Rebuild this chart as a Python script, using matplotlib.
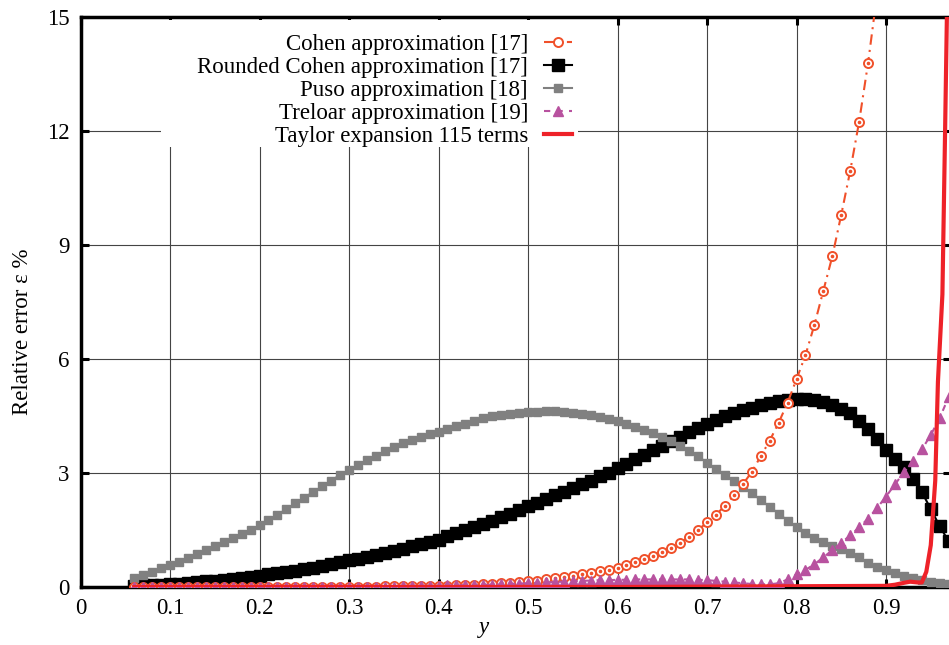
import numpy as np
import matplotlib.pyplot as plt
from matplotlib.patches import Rectangle

plt.rcParams['font.family'] = ['Liberation Serif', 'DejaVu Serif']
plt.rcParams['font.size'] = 16.5

# sample points (y = 0.06 ... 0.97)
x_grid = np.round(np.arange(0.06, 0.975, 0.01), 2)

# Cohen approximation, read up to y = 0.90 (leaves the plot above 15)
cohen = [0.0, 0.0, 0.0, 0.0, 0.0, 0.0, 0.0, 0.0, 0.0, 0.0,
         0.005, 0.005, 0.005, 0.005, 0.005, 0.005, 0.005, 0.005, 0.005, 0.005,
         0.01, 0.01, 0.01, 0.01, 0.01, 0.01, 0.01, 0.01,
         0.02, 0.02, 0.02, 0.02, 0.02, 0.02,
         0.03, 0.035, 0.04, 0.05, 0.06, 0.07, 0.08, 0.10, 0.11, 0.13,
         0.15, 0.17, 0.20, 0.23, 0.26, 0.29, 0.33, 0.37, 0.41, 0.46,
         0.51, 0.59, 0.67, 0.74, 0.81, 0.91, 1.03, 1.16, 1.32, 1.50,
         1.70, 1.90, 2.14, 2.41, 2.70, 3.03, 3.44, 3.85, 4.32, 4.85,
         5.47, 6.10, 6.90, 7.80, 8.70, 9.80, 10.95, 12.25, 13.80, 15.60,
         17.50]

rounded_cohen = [0.03, 0.04, 0.05, 0.06, 0.08, 0.09, 0.11, 0.13, 0.15, 0.17,
                 0.19, 0.21, 0.24, 0.27, 0.30, 0.33, 0.36, 0.40, 0.43, 0.47,
                 0.51, 0.55, 0.60, 0.65, 0.70, 0.75, 0.80, 0.85, 0.90, 0.95,
                 1.01, 1.07, 1.13, 1.19, 1.25, 1.33, 1.41, 1.49, 1.57, 1.65,
                 1.74, 1.83, 1.93, 2.02, 2.12, 2.21, 2.31, 2.41, 2.50, 2.60,
                 2.70, 2.80, 2.91, 3.01, 3.12, 3.24, 3.36, 3.48, 3.60, 3.72,
                 3.84, 3.96, 4.07, 4.19, 4.30, 4.40, 4.50, 4.58, 4.66, 4.72,
                 4.79, 4.85, 4.90, 4.93, 4.95, 4.94, 4.91, 4.86, 4.79, 4.69,
                 4.57, 4.38, 4.15, 3.90, 3.60, 3.38, 3.15, 2.85, 2.50, 2.05,
                 1.60, 1.20]

puso = [0.25, 0.32, 0.40, 0.49, 0.58, 0.67, 0.77, 0.87, 0.97, 1.07,
        1.18, 1.29, 1.40, 1.51, 1.62, 1.76, 1.90, 2.05, 2.20, 2.35,
        2.50, 2.65, 2.80, 2.95, 3.08, 3.21, 3.34, 3.46, 3.57, 3.68,
        3.78, 3.87, 3.95, 4.02, 4.09, 4.16, 4.23, 4.30, 4.37, 4.44,
        4.49, 4.53, 4.56, 4.59, 4.60, 4.61, 4.62, 4.62, 4.61, 4.59,
        4.56, 4.52, 4.47, 4.42, 4.36, 4.29, 4.21, 4.13, 4.04, 3.94,
        3.83, 3.71, 3.58, 3.44, 3.27, 3.11, 2.95, 2.79, 2.63, 2.47,
        2.29, 2.11, 1.93, 1.75, 1.58, 1.43, 1.30, 1.19, 1.09, 0.99,
        0.89, 0.79, 0.63, 0.53, 0.44, 0.36, 0.29, 0.23, 0.18, 0.14,
        0.11, 0.08]

treloar = [0.0] * 20 + [0.01] * 10 + \
          [0.02, 0.02, 0.03, 0.03, 0.03, 0.04, 0.04, 0.05, 0.05, 0.06,
           0.06, 0.07, 0.08, 0.09, 0.10, 0.11, 0.12, 0.13, 0.14, 0.15,
           0.16, 0.17, 0.18, 0.18, 0.19, 0.19, 0.20, 0.20, 0.20, 0.20,
           0.20, 0.20, 0.20, 0.19, 0.18, 0.16, 0.14, 0.12, 0.10, 0.08,
           0.07, 0.07, 0.10, 0.20, 0.33, 0.45, 0.60, 0.78, 0.97, 1.16,
           1.36, 1.57, 1.80, 2.08, 2.38, 2.70, 3.02, 3.32, 3.62, 4.00,
           4.45, 5.00]

taylor_x = [0.06, 0.3, 0.6, 0.9, 0.91, 0.92, 0.927, 0.935, 0.94, 0.945,
            0.95, 0.955, 0.958, 0.963, 0.966, 0.968, 0.97]
taylor = [0.0, 0.0, 0.0, 0.03, 0.06, 0.11, 0.14, 0.12, 0.12, 0.4,
          1.1, 2.8, 5.4, 7.7, 12.0, 15.0, 17.0]

fig = plt.figure(figsize=(9.49, 6.45), dpi=100)
ax = fig.add_axes([80.5 / 949, 58 / 645, 870.5 / 949, 570 / 645])

orange = '#f0502a'
purple = '#b8529f'
red = '#ee2229'

ax.plot(x_grid, rounded_cohen, color='black', lw=1.5, marker='s', ms=8.5,
        label='Rounded Cohen approximation [17]', zorder=3)
ax.plot(x_grid, puso, color='#808080', lw=1.5, marker='s', ms=5.8,
        label='Puso approximation [18]', zorder=4)
ax.plot(x_grid[:len(cohen)], cohen, color=orange, lw=1.5,
        ls=(0, (5, 2.5, 1, 2.5)), marker='o', ms=6.5, mfc='white', mew=1.4,
        label='Cohen approximation [17]', zorder=5)
# small dot inside the circles
ax.plot(x_grid[:len(cohen)], cohen, ls='none', marker='o', ms=1.6,
        color=orange, zorder=5.5)
ax.plot(x_grid, treloar, color=purple, lw=1.5, ls=(0, (3, 3)), marker='^',
        ms=7.5, label='Treloar approximation [19]', zorder=6)
ax.plot(taylor_x, taylor, color=red, lw=3, label='Taylor expansion 115 terms',
        zorder=7)

ax.set_xlim(0, 0.9726)
ax.set_ylim(0, 15)
ax.set_xticks(np.round(np.arange(0, 0.95, 0.1), 1))
ax.set_xticklabels(['0', '0.1', '0.2', '0.3', '0.4', '0.5', '0.6', '0.7', '0.8', '0.9'])
ax.set_yticks([0, 3, 6, 9, 12, 15])

ax.grid(True, color='#444444', lw=0.8)
ax.set_axisbelow(True)
for sp in ax.spines.values():
    sp.set_linewidth(2.5)
ax.tick_params(direction='in', length=6, width=2.2, top=True, right=True, pad=8)

ax.set_xlabel('y', fontstyle='italic')
ax.xaxis.set_label_coords(0.4635, -0.052)
ax.set_ylabel('Relative error ε %')
ax.yaxis.set_label_coords(-0.055, 0.447)

# opaque key area (hides the grid behind the legend, like gnuplot's opaque key)
ax.add_patch(Rectangle((0.092, 0.772), 0.48, 0.222, transform=ax.transAxes,
                       facecolor='white', edgecolor='none', zorder=9))

handles, labels = ax.get_legend_handles_labels()
order = [2, 0, 1, 3, 4]
leg = ax.legend([handles[i] for i in order], [labels[i] for i in order],
                loc='upper right', bbox_to_anchor=(0.572, 0.983),
                markerfirst=False, frameon=False, borderpad=0.3,
                borderaxespad=0, labelspacing=0.09, handlelength=1.2,
                handletextpad=0.7, numpoints=1)
leg.set_zorder(10)
for col in leg._legend_handle_box.get_children():
    col.align = 'right'

fig.savefig('out.png', dpi=100)
